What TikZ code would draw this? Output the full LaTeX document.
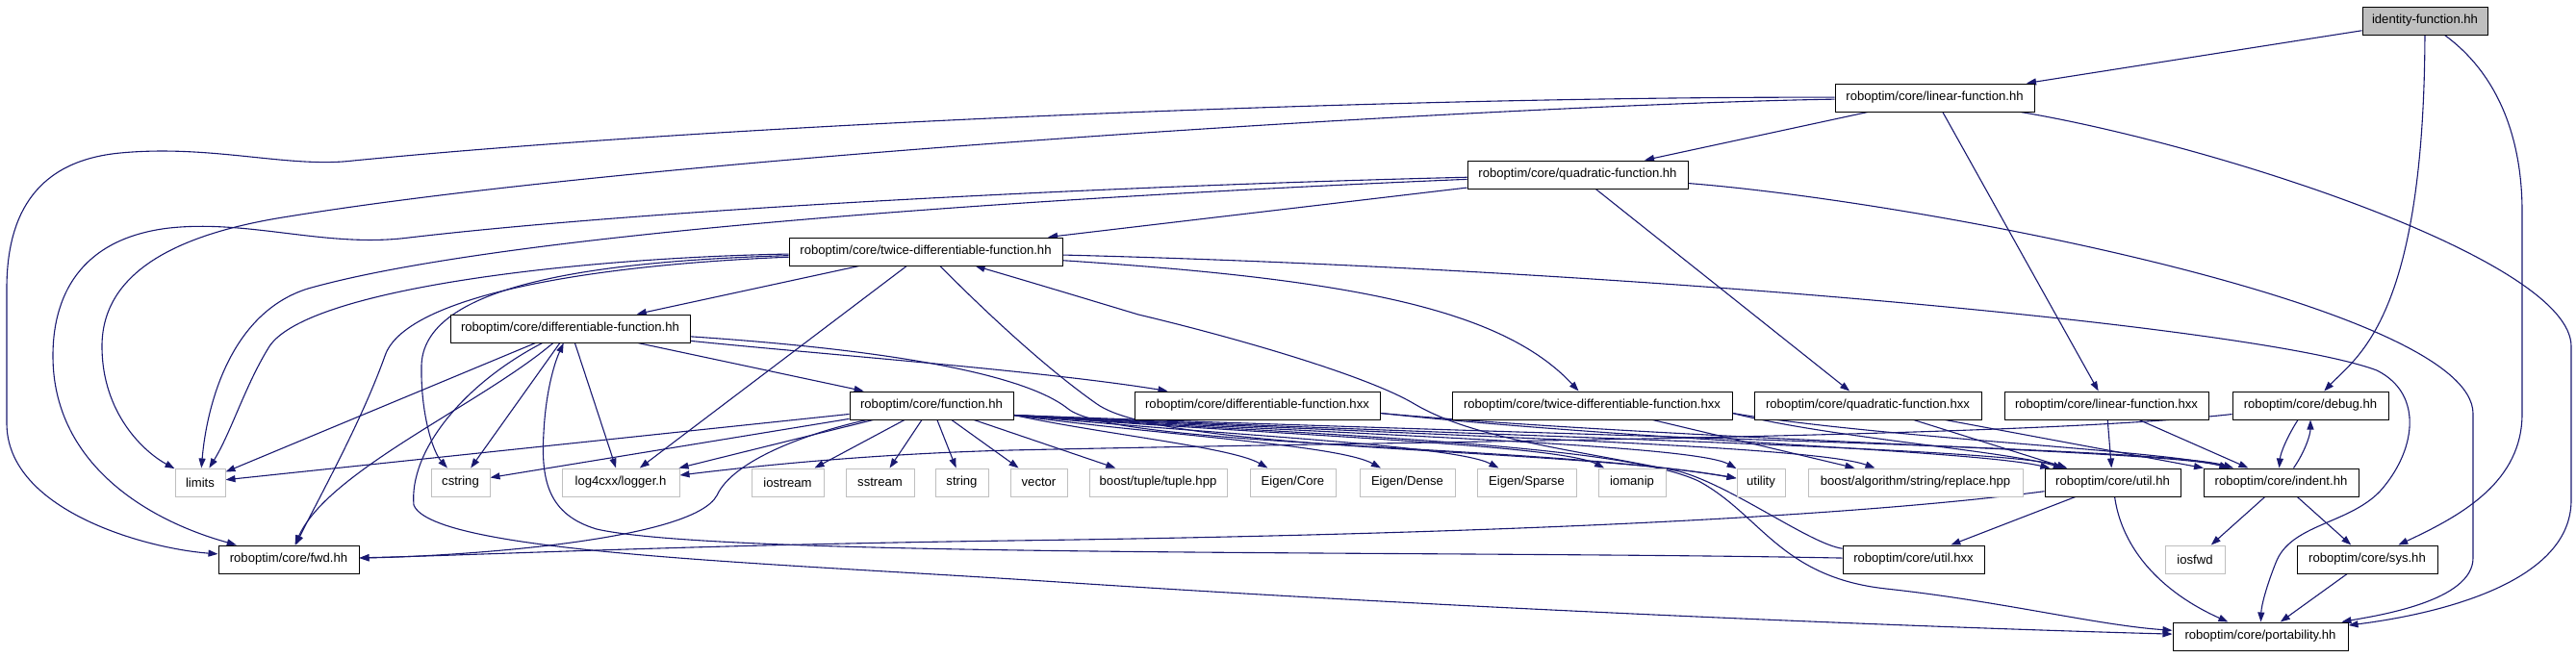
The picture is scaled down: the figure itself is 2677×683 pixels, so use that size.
\documentclass[tikz,border=0pt]{standalone}
\usepackage{fontspec}
\setmainfont{Liberation Sans}
\usetikzlibrary{arrows.meta}
\definecolor{edgec}{HTML}{191970}
\definecolor{sysborder}{HTML}{BFBFBF}
\pgfdeclarelayer{bg}
\pgfsetlayers{bg,main}
\tikzset{
  fn/.style={draw=black, line width=1pt, fill=white, minimum height=29, inner xsep=0pt, inner ysep=0pt, font=\fontsize{13.1}{15}\selectfont},
  sysn/.style={fn, draw=sysborder},
  rootn/.style={fn, fill=sysborder},
  edge/.style={draw=edgec, line width=1.1pt, -{Triangle[length=10pt,width=7pt]}},
}
\begin{document}
\begin{tikzpicture}[x=1pt,y=-1pt]
\useasboundingbox (0,0) rectangle (2677,683);
% row 1-4
\node[rootn, minimum width=130] (identity) at (2520,21.5) {identity-function.hh};
\node[fn, minimum width=207] (linear) at (2010.5,101.5) {roboptim/core/linear-function.hh};
\node[fn, minimum width=229] (quadratic) at (1639.5,181.5) {roboptim/core/quadratic-function.hh};
\node[fn, minimum width=284] (twice) at (962,261.5) {roboptim/core/twice-differentiable-function.hh};
\node[fn, minimum width=249] (diffhh) at (592.5,341.5) {roboptim/core/differentiable-function.hh};
% row 6
\node[fn, minimum width=170] (function) at (968,421.5) {roboptim/core/function.hh};
\node[fn, minimum width=255] (diffhxx) at (1306.5,421.5) {roboptim/core/differentiable-function.hxx};
\node[fn, minimum width=291] (twicehxx) at (1654.5,421.5) {roboptim/core/twice-differentiable-function.hxx};
\node[fn, minimum width=236] (quadhxx) at (1941,421.5) {roboptim/core/quadratic-function.hxx};
\node[fn, minimum width=212] (linhxx) at (2189,421.5) {roboptim/core/linear-function.hxx};
\node[fn, minimum width=162] (debug) at (2401,421.5) {roboptim/core/debug.hh};
% leaves row
\node[sysn, minimum width=52] (limits) at (208,501.5) {limits};
\node[sysn, minimum width=61] (cstring) at (478.5,501.5) {cstring};
\node[sysn, minimum width=122] (log4cxx) at (645,501.5) {log4cxx/logger.h};
\node[sysn, minimum width=75] (iostream) at (818.5,501.5) {iostream};
\node[sysn, minimum width=71] (sstream) at (914.5,501.5) {sstream};
\node[sysn, minimum width=55] (string) at (999.5,501.5) {string};
\node[sysn, minimum width=59] (vector) at (1079.5,501.5) {vector};
\node[sysn, minimum width=143] (tuple) at (1203.5,501.5) {boost/tuple/tuple.hpp};
\node[sysn, minimum width=89] (eigencore) at (1343.5,501.5) {Eigen/Core};
\node[sysn, minimum width=99] (eigendense) at (1462.5,501.5) {Eigen/Dense};
\node[sysn, minimum width=103] (eigensparse) at (1586.5,501.5) {Eigen/Sparse};
\node[sysn, minimum width=70] (iomanip) at (1696,501.5) {iomanip};
\node[sysn, minimum width=50] (utility) at (1830,501.5) {utility};
\node[sysn, minimum width=223] (boostalg) at (1990.5,501.5) {boost/algorithm/string/replace.hpp};
\node[fn, minimum width=141] (utilhh) at (2195.5,501.5) {roboptim/core/util.hh};
\node[fn, minimum width=161] (indent) at (2370.5,501.5) {roboptim/core/indent.hh};
% row 8
\node[fn, minimum width=146] (fwd) at (300,581.5) {roboptim/core/fwd.hh};
\node[fn, minimum width=147] (utilhxx) at (1988.5,581.5) {roboptim/core/util.hxx};
\node[sysn, minimum width=62] (iosfwd) at (2281,581.5) {iosfwd};
\node[fn, minimum width=146] (sys) at (2460,581.5) {roboptim/core/sys.hh};
% row 9
\node[fn, minimum width=182] (portability) at (2349,661.5) {roboptim/core/portability.hh};

\begin{pgfonlayer}{bg}
% identity
\draw[edge] (identity) -- (linear);
\draw[edge] (identity) .. controls (2519,330) and (2450,370) .. (debug);
\draw[edge] (identity) .. controls (2600,80) and (2621,150) .. (2621,220) -- (2621,430) .. controls (2621,500) and (2560,535) .. (sys);
% linear
\draw[edge] (linear) -- (quadratic);
\draw[edge] (linear) -- (linhxx);
\draw[edge] (linear) .. controls (1600,108) and (700,160) .. (300,225) .. controls (170,245) and (106,290) .. (106,360) .. controls (106,430) and (150,470) .. (limits);
\draw[edge] (linear) .. controls (1500,100) and (800,125) .. (367,167) .. controls (300,175) and (220,150) .. (125,159) .. controls (40,167) and (7,220) .. (7,300) -- (7,440) .. controls (7,530) and (150,570) .. (fwd);
\draw[edge] (linear) .. controls (2300,150) and (2672,270) .. (2672,360) -- (2672,520) .. controls (2672,610) and (2520,640) .. (portability);
% quadratic
\draw[edge] (quadratic) -- (twice);
\draw[edge] (quadratic) -- (quadhxx);
\draw[edge] (quadratic) .. controls (1200,200) and (550,235) .. (320,300) .. controls (240,325) and (215,420) .. (limits);
\draw[edge] (quadratic) .. controls (1200,192) and (700,215) .. (425,247) .. controls (340,258) and (260,228) .. (176,237) .. controls (90,247) and (55,300) .. (55,370) .. controls (55,480) and (150,540) .. (fwd);
\draw[edge] (quadratic) .. controls (2000,210) and (2570,320) .. (2570,430) -- (2570,580) .. controls (2570,625) and (2470,640) .. (portability);
% twice
\draw[edge] (twice) -- (diffhh);
\draw[edge] (twice) .. controls (1400,290) and (1560,320) .. (twicehxx);
\draw[edge] (twice) .. controls (600,268) and (320,300) .. (280,360) .. controls (255,400) and (240,450) .. (limits);
\draw[edge] (twice) .. controls (600,272) and (440,300) .. (438,380) .. controls (437,430) and (450,470) .. (cstring);
\draw[edge] (twice) -- (log4cxx);
\draw[edge] (twice) .. controls (600,276) and (420,310) .. (400,370) .. controls (375,440) and (330,520) .. (fwd);
\draw[edge] (twice) .. controls (1700,280) and (2350,340) .. (2470,385) .. controls (2520,410) and (2510,470) .. (2473,511) .. controls (2440,545) and (2380,545) .. (2365,585) .. controls (2355,610) and (2350,630) .. (portability);
\draw[edge] (twice) .. controls (1030,330) and (1090,385) .. (1140,420) .. controls (1210,470) and (1620,465) .. (utility);
% util.hxx back edges
\draw[edge] (utilhxx) .. controls (1880,565) and (1800,505) .. (1745,490) .. controls (1620,465) and (1530,455) .. (1470,420) .. controls (1420,390) and (1280,350) .. (1183,327) .. controls (1110,305) and (1060,290) .. (twice);
\draw[edge] (utilhxx) .. controls (1500,572) and (750,580) .. (620,550) .. controls (570,535) and (562,500) .. (565,450) .. controls (567,410) and (575,380) .. (diffhh);
% differentiable-function.hh
\draw[edge] (diffhh) -- (function);
\draw[edge] (diffhh) .. controls (850,368) and (1080,385) .. (diffhxx);
\draw[edge] (diffhh) -- (limits);
\draw[edge] (diffhh) -- (cstring);
\draw[edge] (diffhh) -- (log4cxx);
\draw[edge] (diffhh) .. controls (500,420) and (340,490) .. (fwd);
\draw[edge] (diffhh) .. controls (480,400) and (425,470) .. (430,525) .. controls (450,575) and (800,585) .. (1100,605) .. controls (1600,638) and (2100,655) .. (portability);
\draw[edge] (diffhh) .. controls (900,362) and (1060,385) .. (1110,425) .. controls (1160,465) and (1600,462) .. (utility);
% function.hh
\draw[edge] (function) -- (limits);
\draw[edge] (function) -- (cstring);
\draw[edge] (function) -- (log4cxx);
\draw[edge] (function) -- (iostream);
\draw[edge] (function) -- (sstream);
\draw[edge] (function) -- (string);
\draw[edge] (function) -- (vector);
\draw[edge] (function) -- (tuple);
\draw[edge] ([yshift=-10pt]function.east) .. controls (1150,452) and (1280,465) .. (eigencore);
\draw[edge] ([yshift=-10pt]function.east) .. controls (1200,452) and (1390,462) .. (eigendense);
\draw[edge] ([yshift=-10pt]function.east) .. controls (1260,452) and (1510,462) .. (eigensparse);
\draw[edge] ([yshift=-10pt]function.east) .. controls (1320,452) and (1620,462) .. (iomanip);
\draw[edge] ([yshift=-10pt]function.east) .. controls (1400,452) and (1760,462) .. (utility);
\draw[edge] ([yshift=-10pt]function.east) .. controls (1450,452) and (1880,462) .. (boostalg);
\draw[edge] ([yshift=-10pt]function.east) .. controls (1500,452) and (2080,465) .. (utilhh);
\draw[edge] ([yshift=-10pt]function.east) .. controls (1600,452) and (2250,465) .. (indent);
\draw[edge] (function) .. controls (840,450) and (762,478) .. (745,515) .. controls (720,562) and (480,578) .. (fwd);
\draw[edge] ([yshift=-10pt]function.east) .. controls (1350,452) and (1680,460) .. (1765,500) .. controls (1830,535) and (1850,600) .. (1960,612) .. controls (2080,625) and (2180,650) .. (portability);
% hxx files
\draw[edge] ([yshift=-8pt]diffhxx.east) .. controls (1700,458) and (2050,468) .. (utilhh);
\draw[edge] ([yshift=-8pt]diffhxx.east) .. controls (1750,458) and (2250,468) .. (indent);
\draw[edge] (twicehxx) -- (boostalg);
\draw[edge] ([yshift=-8pt]twicehxx.east) .. controls (1900,455) and (2080,468) .. (utilhh);
\draw[edge] ([yshift=-8pt]twicehxx.east) .. controls (1950,455) and (2250,468) .. (indent);
\draw[edge] (quadhxx) -- (utilhh);
\draw[edge] (quadhxx) -- (indent);
\draw[edge] (linhxx) -- (utilhh);
\draw[edge] (linhxx) -- (indent);
% debug / indent
\draw[edge] (debug) .. controls (2100,455) and (1500,458) .. (1050,468) .. controls (900,472) and (780,485) .. (log4cxx);
\draw[edge] ([xshift=-13pt]debug.south) .. controls (2378,452) and (2370,470) .. ([xshift=-2pt]indent.north);
\draw[edge] ([xshift=13pt]indent.north) .. controls (2395,470) and (2401,452) .. ([xshift=0pt]debug.south);
\draw[edge] (indent) -- (iosfwd);
\draw[edge] (indent) -- (sys);
% util.hh
\draw[edge] (utilhh) -- (utilhxx);
\draw[edge] (utilhh) .. controls (1900,540) and (1500,556) .. (1050,562) .. controls (700,567) and (500,577) .. (fwd);
\draw[edge] (utilhh) .. controls (2205,570) and (2245,615) .. (portability);
% sys
\draw[edge] (sys) -- (portability);
\end{pgfonlayer}
\end{tikzpicture}
\end{document}
